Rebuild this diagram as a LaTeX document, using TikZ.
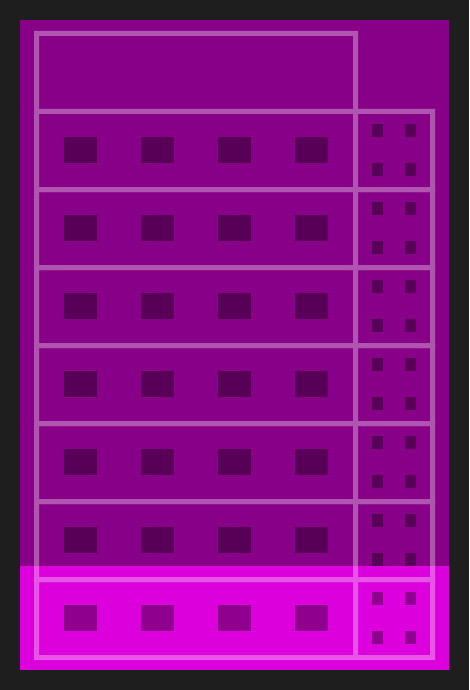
\documentclass[tikz,border=0pt]{standalone}
\usetikzlibrary{positioning}
\definecolor{bgdark}{HTML}{1E1E1E}
\definecolor{rackpurple}{HTML}{880088}
\definecolor{hilite}{HTML}{DC00DC}
\tikzset{
  frameline/.style={draw=white, line width=5pt},
  bigsq/.style={fill=black, fill opacity=0.35, draw=none, minimum width=33pt, minimum height=26pt, inner sep=0pt},
  smallsq/.style={fill=black, fill opacity=0.35, draw=none, minimum width=11pt, minimum height=13pt, inner sep=0pt},
}
\begin{document}
\begin{tikzpicture}[x=1pt,y=-1pt]
\useasboundingbox (0,0) rectangle (469,690);
\fill[bgdark] (0,0) rectangle (469,690);
\fill[rackpurple] (20,20) rectangle (449,670);
\fill[hilite] (20,566) rectangle (449,670);
% frame lines
\begin{scope}[transparency group, opacity=0.33]
  \draw[frameline] (36.5,111.5) -- (36.5,33.5) -- (355.5,33.5) -- (355.5,111.5);
  \foreach \k in {0,...,6} {
    \pgfmathsetmacro{\ya}{111.5+78*\k}
    \pgfmathsetmacro{\yb}{189.5+78*\k}
    \draw[frameline] (36.5,\ya) rectangle (432.5,\yb);
    \draw[frameline] (355.5,\ya) -- (355.5,\yb);
  }
\end{scope}
% squares
\foreach \k in {0,...,6} {
  \pgfmathsetmacro{\yc}{150+78*\k}
  \pgfmathsetmacro{\ys}{130.5+78*\k}
  \pgfmathsetmacro{\yt}{169.5+78*\k}
  \foreach \i/\x in {1/80.5,2/157.5,3/234.5,4/311.5} {
    \node[bigsq] (b\k\i) at (\x,\yc) {};
  }
  \node[smallsq] (s\k a) at (377.5,\ys) {};
  \node[smallsq] (s\k b) at (410.5,\ys) {};
  \node[smallsq] (s\k c) at (377.5,\yt) {};
  \node[smallsq] (s\k d) at (410.5,\yt) {};
}
\end{tikzpicture}
\end{document}
